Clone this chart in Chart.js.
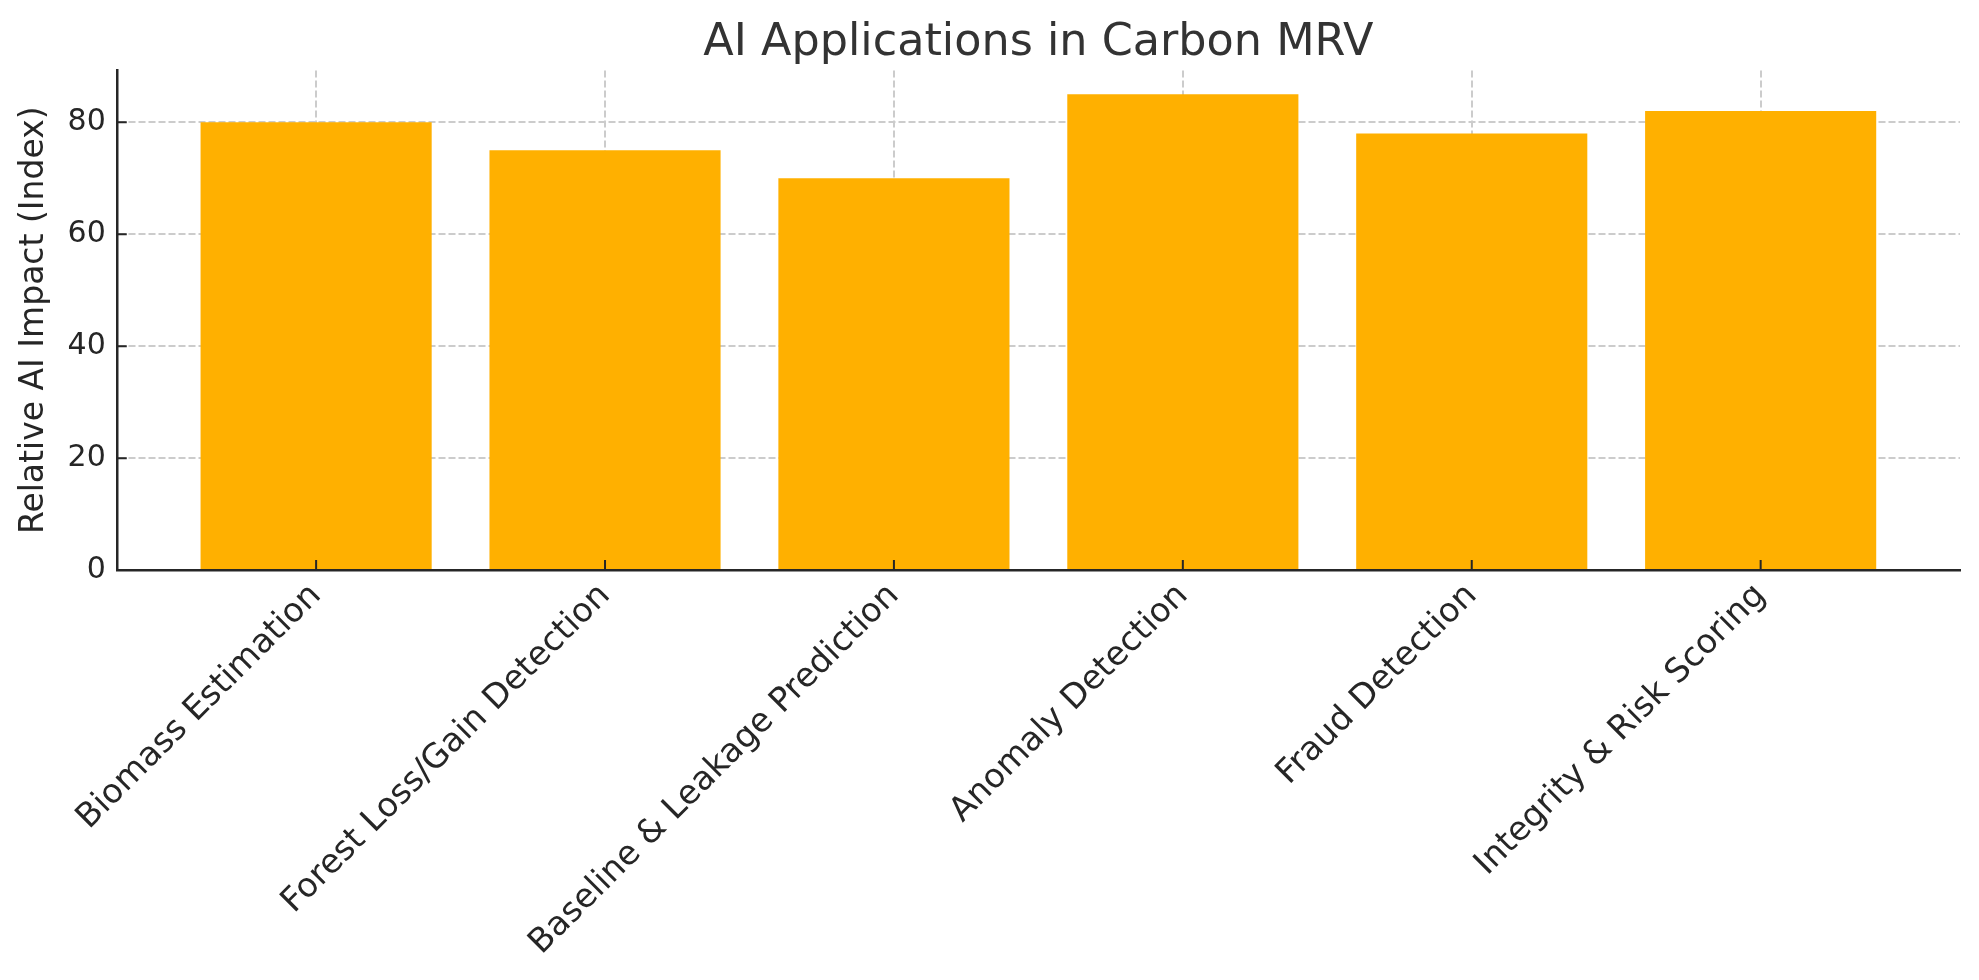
<!DOCTYPE html>
<html>
<head>
<meta charset="utf-8">
<script src="https://cdn.jsdelivr.net/npm/chart.js@4"></script>
<style>
  html, body { margin: 0; padding: 0; background: #fff; }
  #wrap { width: 1979px; height: 980px; }
</style>
</head>
<body>
<div id="wrap"><canvas id="myChart"></canvas></div>
<script>
// chart data
const categories = [
  'Biomass Estimation',
  'Forest Loss/Gain Detection',
  'Baseline & Leakage Prediction',
  'Anomaly Detection',
  'Fraud Detection',
  'Integrity & Risk Scoring'
];
const impactValues = [80, 75, 70, 85, 78, 82];
const yTicks = [0, 20, 40, 60, 80];

const font = 'DejaVu Sans';

// small inward tick marks like matplotlib's direction='in'
const inwardTicks = {
  id: 'inwardTicks',
  afterDatasetsDraw(chart) {
    const { ctx, chartArea, scales } = chart;
    ctx.save();
    ctx.strokeStyle = '#262626';
    ctx.lineWidth = 2;
    ctx.beginPath();
    scales.x.ticks.forEach(t => {
      const px = scales.x.getPixelForValue(t.value);
      ctx.moveTo(px, chartArea.bottom);
      ctx.lineTo(px, chartArea.bottom - 10);
    });
    scales.y.ticks.forEach(t => {
      const py = scales.y.getPixelForValue(t.value);
      ctx.moveTo(chartArea.left, py);
      ctx.lineTo(chartArea.left + 10, py);
    });
    ctx.stroke();
    ctx.restore();
  }
};

const chart1 = new Chart('myChart', {
  type: 'bar',
  data: {
    datasets: [{
      label: 'Relative AI Impact',
      data: impactValues.map((v, i) => ({ x: i, y: v })),
      backgroundColor: '#FFB000',
      barPercentage: 0.8,
      categoryPercentage: 1.0
    }]
  },
  options: {
    responsive: true,
    maintainAspectRatio: false,
    animation: false,
    layout: { padding: { top: 4, right: 19, bottom: 11, left: 15 } },
    plugins: {
      legend: { display: false },
      tooltip: { enabled: false },
      title: {
        display: true,
        fullSize: false,
        text: 'AI Applications in Carbon MRV',
        color: '#333333',
        font: { family: font, size: 44.5, weight: 'normal' },
        padding: { top: 13, bottom: 0 }
      }
    },
    scales: {
      x: {
        type: 'linear',
        offset: false,
        min: -0.69,
        max: 5.69,
        afterBuildTicks: axis => { axis.ticks = categories.map((c, i) => ({ value: i })); },
        ticks: {
          callback: v => categories[v],
          color: '#262626',
          font: { family: font, size: 33.5 },
          minRotation: 45,
          maxRotation: 45,
          padding: 6
        },
        grid: {
          offset: false,
          color: '#cccccc',
          lineWidth: 2,
          drawTicks: false
        },
        border: { color: '#262626', width: 2.5, dash: [7, 3] }
      },
      y: {
        min: 0,
        max: 89.25,
        afterBuildTicks: axis => { axis.ticks = yTicks.map(v => ({ value: v })); },
        ticks: {
          color: '#262626',
          font: { family: font, size: 30 },
          padding: 11
        },
        grid: {
          color: '#cccccc',
          lineWidth: 2,
          drawTicks: false
        },
        border: { color: '#262626', width: 2.5, dash: [7, 3] },
        title: {
          display: true,
          text: 'Relative AI Impact (Index)',
          color: '#262626',
          font: { family: font, size: 33 },
          padding: { top: 0, bottom: 2 }
        }
      }
    }
  },
  plugins: [inwardTicks]
});
</script>
</body>
</html>
